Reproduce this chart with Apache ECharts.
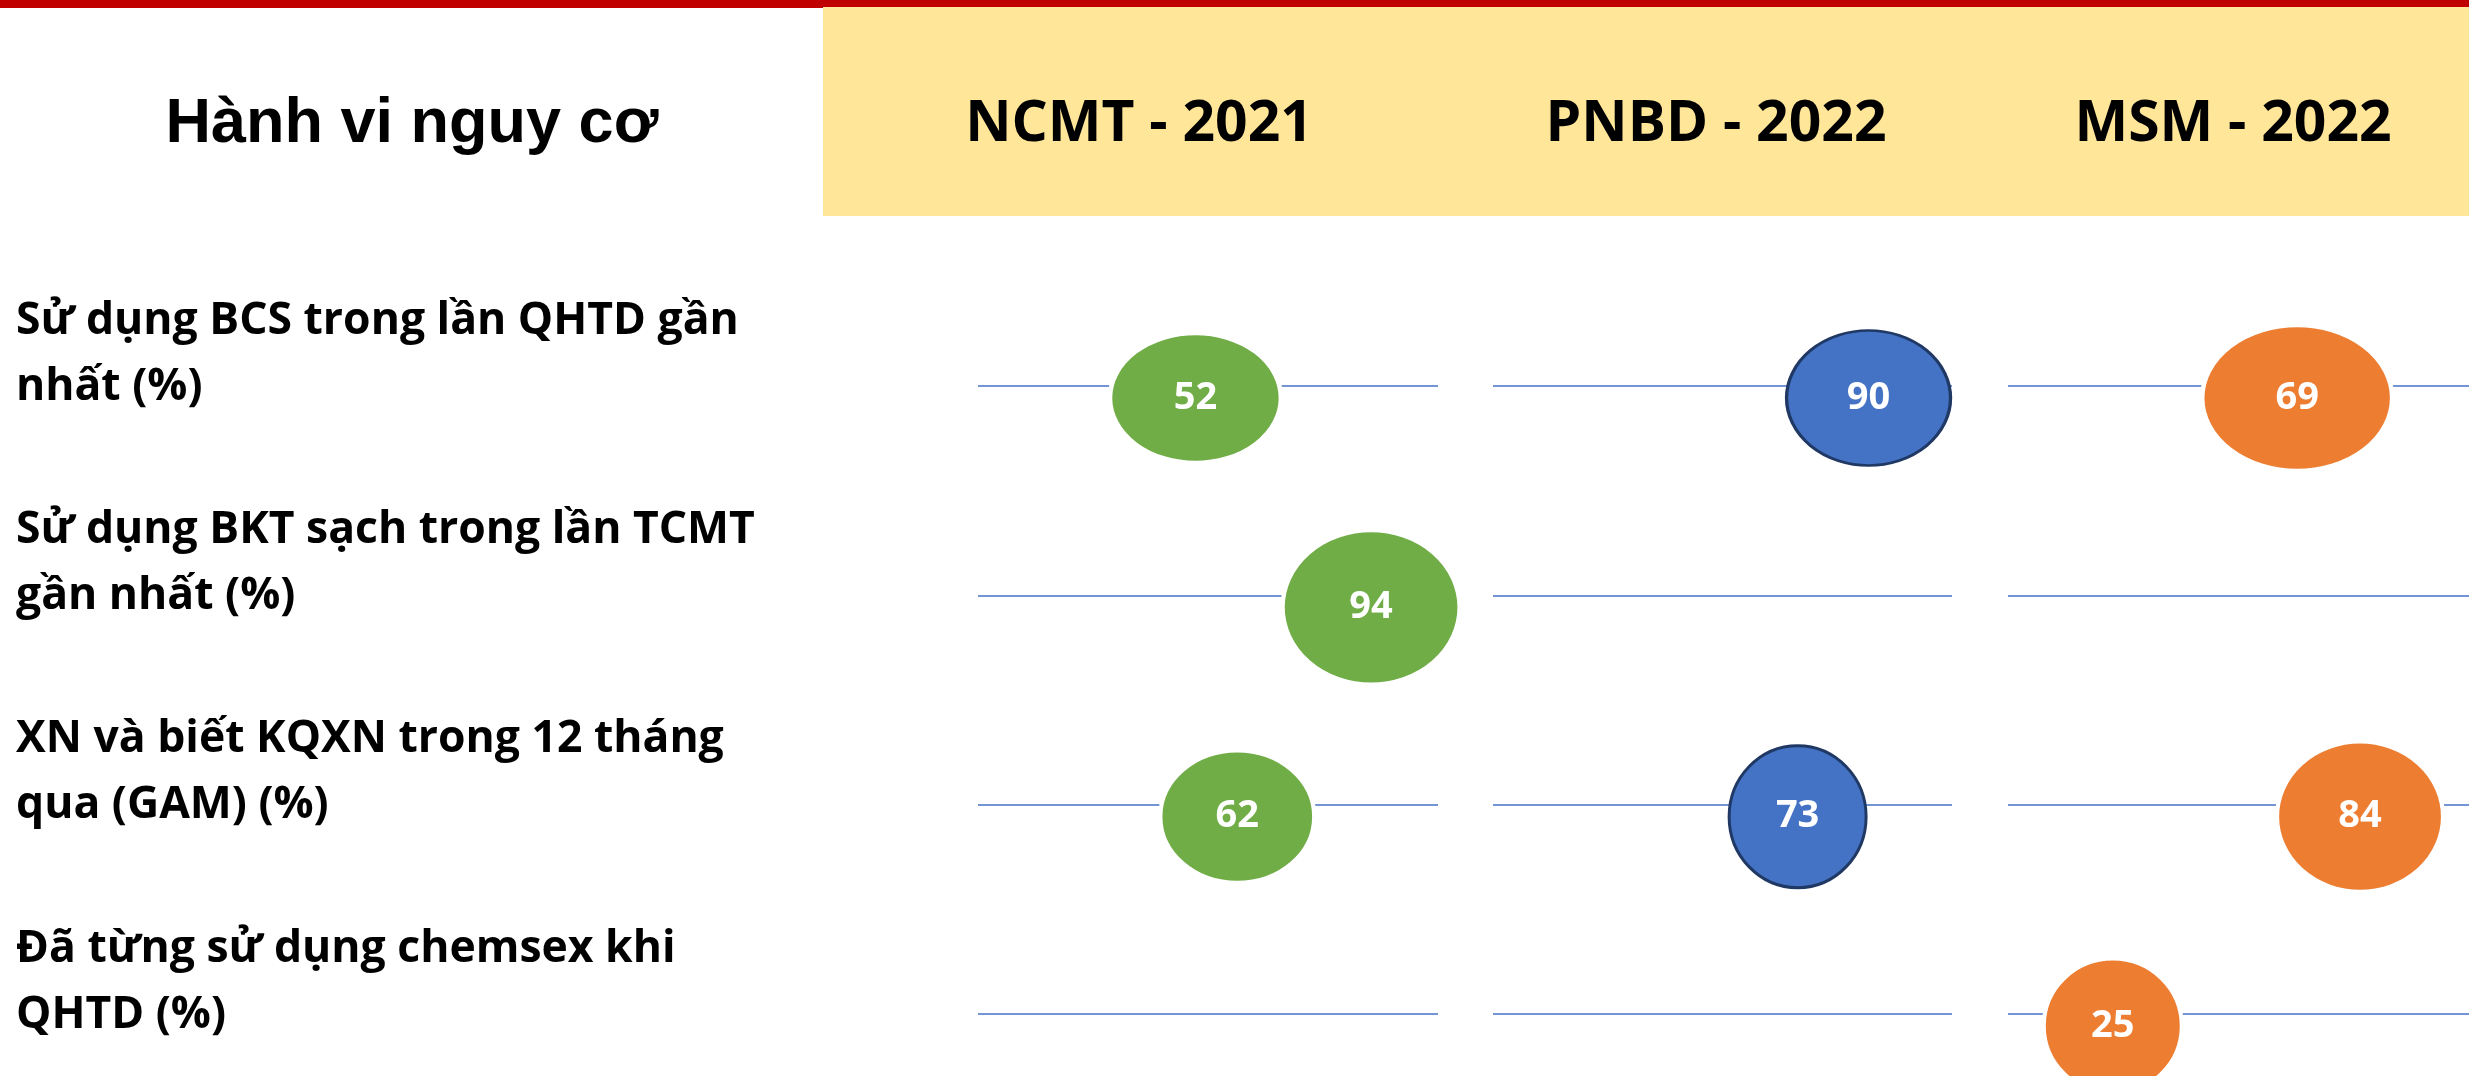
<!DOCTYPE html>
<html>
<head>
<meta charset="utf-8">
<title>Hành vi nguy cơ</title>
<script src="https://cdn.jsdelivr.net/npm/echarts@6/dist/echarts.min.js"></script>
<style>
  html, body { margin: 0; padding: 0; background: #ffffff; }
  #chart { width: 2469px; height: 1076px; }
</style>
</head>
<body>
<div id="chart"></div>
<script>
// Behaviours (rows, top to bottom)
const behaviours = [
  'Sử dụng BCS trong lần QHTD gần\nnhất (%)',
  'Sử dụng BKT sạch trong lần TCMT\ngần nhất (%)',
  'XN và biết KQXN trong 12 tháng\nqua (GAM) (%)',
  'Đã từng sử dụng chemsex khi\nQHTD (%)'
];

// Surveyed groups (columns)
const groups = ['NCMT - 2021', 'PNBD - 2022', 'MSM - 2022'];

// Percentages per group, one entry per behaviour (null = not surveyed)
const ncmt2021 = [52, 94, 62, null];
const pnbd2022 = [90, null, 73, null];
const msm2022  = [69, null, 84, 25];

const groupValues = [ncmt2021, pnbd2022, msm2022];

// Styling
const groupColors  = ['#70AD47', '#4472C4', '#ED7D31'];
const groupBorders = [
  { color: '#ffffff', width: 4 },
  { color: '#1F3864', width: 3 },
  { color: '#ffffff', width: 4 }
];
// Ellipse size [w, h] for each bubble, same layout as the value arrays
const bubbleSizes = [
  [[171, 129], [177, 154], [154, 132], null],
  [[164, 135], null, [137, 142], null],
  [[190, 145], null, [166, 150], [138, 135]]
];
const panelLeft  = [978, 1493, 2008];
const panelWidth = [460, 459, 461];
const headerCenter = [1139, 1716, 2233];
const headerY = 125;

const chart = echarts.init(document.getElementById('chart'));

const grids = [], xAxes = [], yAxes = [], series = [];
groups.forEach((g, i) => {
  grids.push({
    left: panelLeft[i], width: panelWidth[i], top: 386, bottom: 62,
    containLabel: false, outerBoundsMode: 'none'
  });
  xAxes.push({ gridIndex: i, type: 'value', min: 0, max: 110, show: false });
  yAxes.push({
    gridIndex: i,
    type: 'category',
    data: behaviours,
    inverse: true,
    boundaryGap: false,
    axisLine: { show: false },
    axisTick: { show: false },
    axisLabel: { show: false },
    splitLine: { show: true, lineStyle: { color: '#4472C4', width: 1.5 } }
  });
  const data = [];
  groupValues[i].forEach((v, r) => {
    if (v == null) return;
    data.push({ value: [v, r], symbolSize: bubbleSizes[i][r] });
  });
  series.push({
    name: g,
    type: 'scatter',
    xAxisIndex: i,
    yAxisIndex: i,
    symbol: 'circle',
    symbolOffset: [0, 12],
    data: data,
    itemStyle: {
      color: groupColors[i],
      opacity: 1,
      borderColor: groupBorders[i].color,
      borderWidth: groupBorders[i].width
    },
    label: {
      show: true,
      position: 'inside',
      formatter: p => String(p.value[0]),
      color: '#ffffff',
      fontFamily: 'Open Sans',
      fontWeight: 'bold',
      fontSize: 38
    },
    emphasis: { disabled: true },
    silent: true
  });
});

const graphics = [
  { type: 'rect', shape: { x: 0, y: 0, width: 2469, height: 8 }, style: { fill: '#C00000' }, silent: true },
  { type: 'rect', shape: { x: 823, y: 7, width: 1646, height: 209 }, style: { fill: '#FFE699' }, silent: true },
  {
    type: 'text', x: 412, y: headerY, silent: true,
    style: {
      text: 'Hành vi nguy cơ', align: 'center', verticalAlign: 'middle',
      fontFamily: 'Liberation Sans', fontWeight: 'bold', fontSize: 63, fill: '#000000'
    }
  }
];
groups.forEach((g, i) => {
  graphics.push({
    type: 'text', x: headerCenter[i], y: headerY, silent: true,
    style: {
      text: g, align: 'center', verticalAlign: 'middle',
      fontFamily: 'Open Sans', fontWeight: 'bold', fontSize: 57, fill: '#000000'
    }
  });
});

chart.setOption({
  animation: false,
  backgroundColor: '#ffffff',
  grid: grids,
  xAxis: xAxes,
  yAxis: yAxes,
  series: series,
  graphic: graphics
});

// Row captions sit on the left, a little above each row's guide line
const captions = behaviours.map((b, r) => {
  const yRow = chart.convertToPixel({ yAxisIndex: 0 }, r);
  return {
    type: 'text', x: 16, y: yRow - 32, silent: true,
    style: {
      text: b, align: 'left', verticalAlign: 'middle',
      fontFamily: 'Open Sans', fontWeight: 'bold', fontSize: 44.5,
      lineHeight: 66, fill: '#000000'
    }
  };
});
chart.setOption({ graphic: graphics.concat(captions) });
</script>
</body>
</html>
